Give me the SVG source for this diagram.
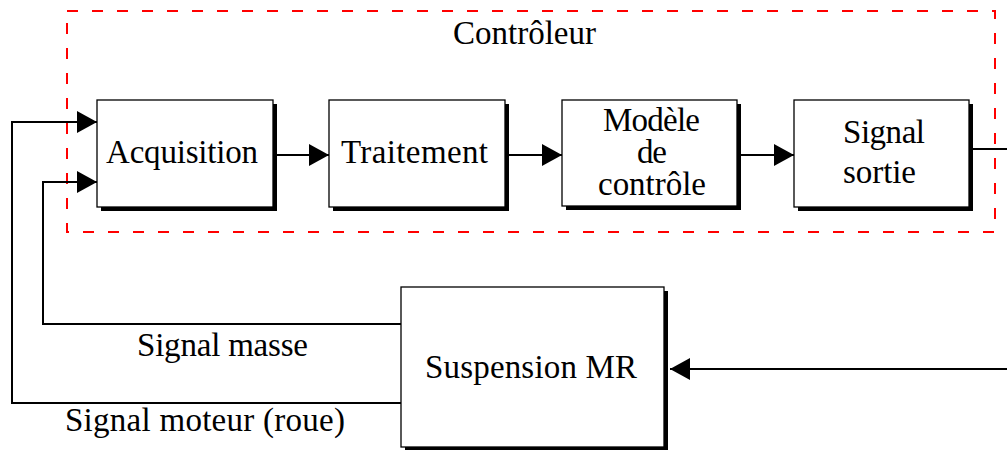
<svg xmlns="http://www.w3.org/2000/svg" width="1007" height="450" viewBox="0 0 1007 450">
  <style>
    .lbl { font-family: "Liberation Serif", "Times New Roman", serif; font-size: 33px; fill: #000; }
    .box { fill: #fff; stroke: #000; stroke-width: 1.3; }
    .shadow { fill: #000; }
    .wire { fill: none; stroke: #000; stroke-width: 2; }
    .frame { fill: none; stroke: #ff0000; stroke-width: 2; stroke-dasharray: 11 14; }
  </style>
  <defs>
    <marker id="arrow" markerUnits="userSpaceOnUse" markerWidth="20" markerHeight="22" refX="20" refY="11" orient="auto">
      <path d="M0,0 L20,11 L0,22 Z" fill="#000"/>
    </marker>
  </defs>

  <rect width="1007" height="450" fill="#fff"/>

  <!-- controller boundary -->
  <g id="controleur">
    <path class="frame" d="M67,11 H995 V232 H67 Z"/>
    <text class="lbl" x="453" y="44" textLength="143" lengthAdjust="spacing">Contrôleur</text>
  </g>

  <!-- connectors -->
  <g id="connectors">
    <path class="wire" d="M273,155 H329" marker-end="url(#arrow)"/>
    <path class="wire" d="M505,155 H562" marker-end="url(#arrow)"/>
    <path class="wire" d="M737,155 H794" marker-end="url(#arrow)"/>
    <path class="wire" d="M969,149 H1007"/>
    <path class="wire" d="M1007,369 H670" marker-end="url(#arrow)"/>
    <path class="wire" d="M401,324 H43 V182 H97" marker-end="url(#arrow)"/>
    <path class="wire" d="M401,403 H12 V122 H97" marker-end="url(#arrow)"/>
  </g>

  <g id="acquisition">
    <rect class="shadow" x="101" y="104" width="176" height="107"/>
    <rect class="box" x="97" y="100" width="176" height="107"/>
    <text class="lbl" x="106" y="163" textLength="152" lengthAdjust="spacing">Acquisition</text>
  </g>

  <g id="traitement">
    <rect class="shadow" x="333" y="104" width="176" height="107"/>
    <rect class="box" x="329" y="100" width="176" height="107"/>
    <text class="lbl" x="341" y="163" textLength="147" lengthAdjust="spacing">Traitement</text>
  </g>

  <g id="modele">
    <rect class="shadow" x="566" y="104" width="175" height="106"/>
    <rect class="box" x="562" y="100" width="175" height="106"/>
    <text class="lbl" x="603" y="131" textLength="97" lengthAdjust="spacing">Modèle</text>
    <text class="lbl" x="637" y="163" textLength="30" lengthAdjust="spacing">de</text>
    <text class="lbl" x="598" y="195" textLength="108" lengthAdjust="spacing">contrôle</text>
  </g>

  <g id="signal-sortie">
    <rect class="shadow" x="798" y="104" width="175" height="107"/>
    <rect class="box" x="794" y="100" width="175" height="107"/>
    <text class="lbl" x="843" y="143" textLength="82" lengthAdjust="spacing">Signal</text>
    <text class="lbl" x="843" y="183" textLength="73" lengthAdjust="spacing">sortie</text>
  </g>

  <g id="suspension">
    <rect class="shadow" x="405" y="291" width="263" height="160"/>
    <rect class="box" x="401" y="287" width="263" height="160"/>
    <text class="lbl" x="425" y="378" textLength="212" lengthAdjust="spacing">Suspension MR</text>
  </g>

  <!-- feedback signal labels -->
  <g id="labels">
    <text class="lbl" x="137" y="356" textLength="171" lengthAdjust="spacing">Signal masse</text>
    <text class="lbl" x="65" y="431" textLength="280" lengthAdjust="spacing">Signal moteur (roue)</text>
  </g>
</svg>
